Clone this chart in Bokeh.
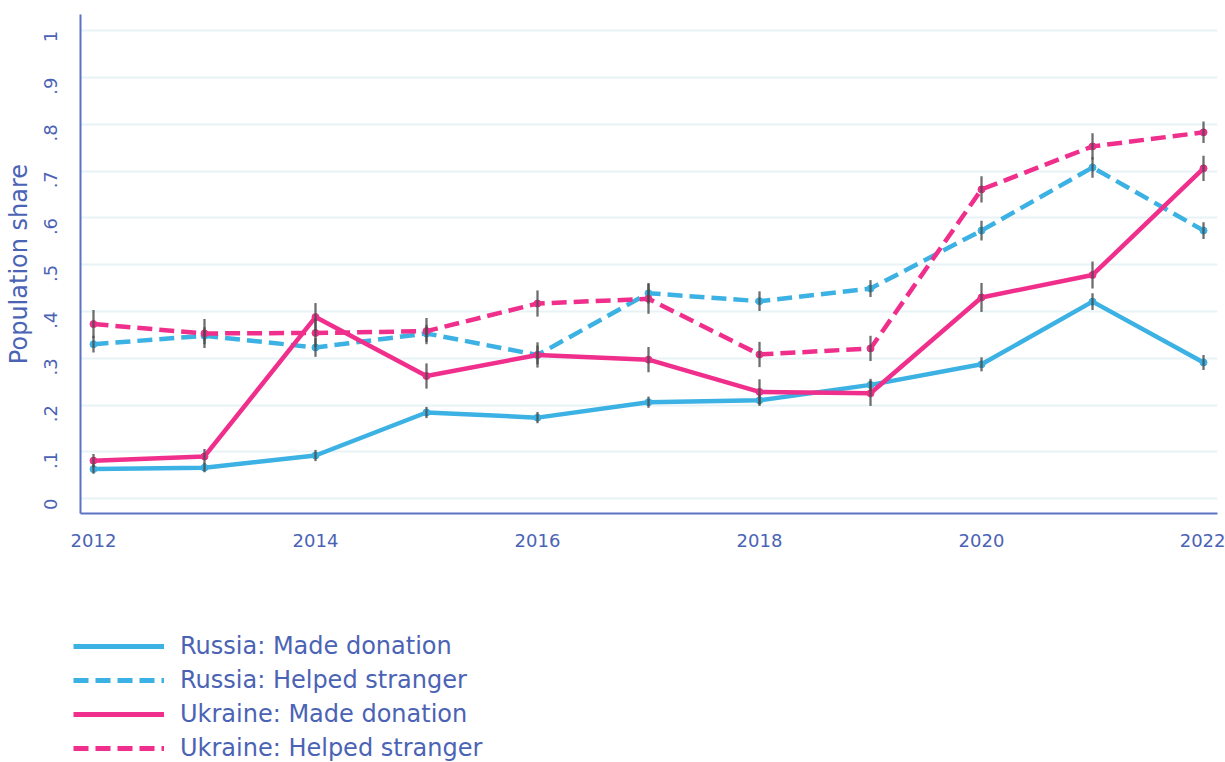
from bokeh.plotting import figure
from bokeh.models import Range1d, FixedTicker, Legend, LegendItem
from bokeh.layouts import column
from bokeh.embed import file_html
from bokeh.resources import INLINE
import math

years = [2012, 2013, 2014, 2015, 2016, 2017, 2018, 2019, 2020, 2021, 2022]

russia_donation = [0.063, 0.066, 0.092, 0.184, 0.173, 0.206, 0.210, 0.243, 0.287, 0.421, 0.291]
russia_donation_err = [0.010, 0.010, 0.012, 0.012, 0.012, 0.012, 0.012, 0.013, 0.015, 0.018, 0.016]

russia_helped = [0.330, 0.348, 0.323, 0.353, 0.307, 0.439, 0.422, 0.449, 0.573, 0.708, 0.573]
russia_helped_err = [0.018, 0.018, 0.020, 0.018, 0.020, 0.022, 0.021, 0.018, 0.021, 0.022, 0.018]

ukraine_donation = [0.081, 0.090, 0.388, 0.262, 0.307, 0.297, 0.228, 0.225, 0.430, 0.478, 0.706]
ukraine_donation_err = [0.014, 0.016, 0.030, 0.027, 0.027, 0.027, 0.027, 0.027, 0.031, 0.029, 0.027]

ukraine_helped = [0.373, 0.353, 0.354, 0.358, 0.417, 0.427, 0.308, 0.321, 0.661, 0.753, 0.783]
ukraine_helped_err = [0.030, 0.031, 0.030, 0.028, 0.028, 0.032, 0.027, 0.027, 0.028, 0.028, 0.023]

y_ticks = [0, 0.1, 0.2, 0.3, 0.4, 0.5, 0.6, 0.7, 0.8, 0.9, 1.0]
y_tick_labels = ["0", ".1", ".2", ".3", ".4", ".5", ".6", ".7", ".8", ".9", "1"]
x_ticks = [2012, 2014, 2016, 2018, 2020, 2022]

BLUE = "#3cb1e3"
PINK = "#ef2f8b"
TEXT = "#4b63b5"
AXIS = "#5a73c3"
GRID = "#e8f3f6"
BAR = "#4a4a4a"
FONT = "DejaVu Sans"
DASH = "15 7"

p = figure(width=1225, height=560, output_backend="svg", toolbar_location=None,
           x_range=Range1d(2011.883, 2022.126), y_range=Range1d(-0.032, 1.035),
           min_border_left=80, min_border_right=8, min_border_top=14, min_border_bottom=47)
p.frame_align = False
p.outline_line_color = None
p.background_fill_color = "white"

# axes
p.xaxis.ticker = FixedTicker(ticks=x_ticks)
p.yaxis.ticker = FixedTicker(ticks=y_ticks)
p.yaxis.major_label_overrides = {t: l for t, l in zip(y_ticks, y_tick_labels)}
p.yaxis.major_label_orientation = math.pi / 2
for ax in (p.xaxis[0], p.yaxis[0]):
    ax.axis_line_color = AXIS
    ax.axis_line_width = 2
    ax.major_tick_line_color = None
    ax.minor_tick_line_color = None
    ax.major_tick_out = 0
    ax.major_tick_in = 0
    ax.major_label_text_color = TEXT
    ax.major_label_text_font = FONT
    ax.major_label_text_font_size = "18px"
p.xaxis.major_label_standoff = 20
p.yaxis.major_label_standoff = 30
p.yaxis.axis_label = "Population share"
p.yaxis.axis_label_text_color = TEXT
p.yaxis.axis_label_text_font = FONT
p.yaxis.axis_label_text_font_style = "normal"
p.yaxis.axis_label_text_font_size = "24px"
p.yaxis.axis_label_standoff = 2

p.xgrid.grid_line_color = None
p.ygrid.ticker = FixedTicker(ticks=y_ticks)
p.ygrid.grid_line_color = GRID
p.ygrid.grid_line_width = 2

series = [
    ("Russia: Made donation", russia_donation, russia_donation_err, BLUE, "solid"),
    ("Russia: Helped stranger", russia_helped, russia_helped_err, BLUE, DASH),
    ("Ukraine: Made donation", ukraine_donation, ukraine_donation_err, PINK, "solid"),
    ("Ukraine: Helped stranger", ukraine_helped, ukraine_helped_err, PINK, DASH),
]

for name, vals, errs, color, dash in series:
    p.line(years, vals, line_color=color, line_width=4.5, line_dash=dash)
    p.scatter(years, vals, size=7, fill_color=color, line_color=color)

for name, vals, errs, color, dash in series:
    lo = [v - e for v, e in zip(vals, errs)]
    hi = [v + e for v, e in zip(vals, errs)]
    p.segment(x0=years, y0=lo, x1=years, y1=hi, line_color=BAR, line_width=2.3, line_alpha=0.8)

# legend panel below the chart
q = figure(width=1225, height=202, output_backend="svg", toolbar_location=None,
           x_range=Range1d(0, 1), y_range=Range1d(0, 1),
           x_axis_location=None, y_axis_location=None,
           min_border_left=0, min_border_right=0, min_border_top=0, min_border_bottom=0)
q.frame_align = False
q.outline_line_color = None
q.xgrid.grid_line_color = None
q.ygrid.grid_line_color = None

items = []
for name, vals, errs, color, dash in series:
    # legend-only renderer, kept outside the visible range of this panel
    r = q.line(x=[-10, -9], y=[-10, -9], line_color=color, line_width=5, line_dash=dash)
    items.append(LegendItem(label=name, renderers=[r]))

legend = Legend(items=items, location=(73, 0), orientation="vertical")
legend.border_line_color = None
legend.background_fill_alpha = 0
legend.padding = 0
legend.margin = 0
legend.glyph_width = 91
legend.glyph_height = 28
legend.label_height = 28
legend.spacing = 6
legend.label_standoff = 16
legend.label_text_font = FONT
legend.label_text_font_size = "24px"
legend.label_text_color = TEXT
q.add_layout(legend, "center")

layout = column(p, q, spacing=0)
open("out.html", "w").write(file_html(layout, INLINE))
